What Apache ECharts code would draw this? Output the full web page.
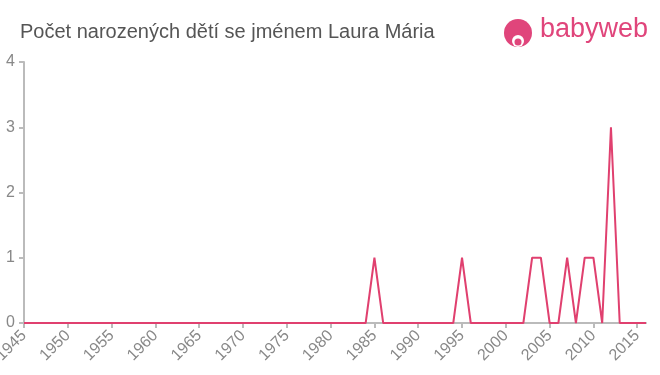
<!DOCTYPE html>
<html><head><meta charset="utf-8">
<script src="https://cdn.jsdelivr.net/npm/echarts@6/dist/echarts.min.js"></script>
<style>html,body{margin:0;padding:0;background:#fff}#c{width:660px;height:375px}</style>
</head><body><div id="c"></div>
<script>
const title = "Počet narozených dětí se jménem Laura Mária";
const years = [];
for (let y = 1945; y <= 2016; y++) years.push(String(y));
const nonZeroYears = ["1985","1995","2003","2004","2007","2009","2010","2012"];
const nonZeroValues = [1,1,1,1,1,1,1,3];
const counts = years.map(y => { const i = nonZeroYears.indexOf(y); return i >= 0 ? nonZeroValues[i] : 0; });
const yTicks = [0,1,2,3,4];

const chart = echarts.init(document.getElementById('c'));
chart.setOption({
  animation: false,
  title: { text: title, left: 15, top: 17, textStyle: { fontFamily: 'Liberation Sans, Arial', fontSize: 20, fontWeight: 'normal', color: '#555' } },
  grid: { left: 24, right: 14, top: 62, bottom: 52, containLabel: false, outerBoundsMode: 'none' },
  xAxis: {
    type: 'category', data: years, boundaryGap: false,
    axisLine: { lineStyle: { color: '#bbb', width: 2 } },
    axisTick: { interval: 4, length: 5, lineStyle: { color: '#bbb', width: 2 } },
    axisLabel: { interval: 4, rotate: 45, fontSize: 16, color: '#888', fontFamily: 'Liberation Sans, Arial', margin: 10 }
  },
  yAxis: {
    type: 'value', min: 0, max: 4, interval: 1,
    splitLine: { show: false },
    axisLine: { show: true, lineStyle: { color: '#bbb', width: 2 } },
    axisTick: { show: true, length: 5, lineStyle: { color: '#bbb', width: 2 } },
    axisLabel: { fontSize: 16, color: '#888', fontFamily: 'Liberation Sans, Arial', margin: 9, formatter: v => yTicks.includes(v) ? String(v) : '' }
  },
  series: [{
    type: 'line', data: counts, showSymbol: false,
    lineStyle: { color: '#e0406f', width: 2 }
  }],
  graphic: [
    { type: 'circle', shape: { cx: 518, cy: 33, r: 14 }, style: { fill: '#e0457b' } },
    { type: 'circle', shape: { cx: 518, cy: 41, r: 6 }, style: { fill: '#fff' } },
    { type: 'circle', shape: { cx: 518, cy: 42, r: 3.5 }, style: { fill: '#e0457b' } },
    { type: 'text', left: 540, top: 16, style: { text: 'babyweb', fontSize: 27, fontFamily: 'Liberation Sans, Arial', fill: '#e0457b' } }
  ]
});
</script></body></html>
